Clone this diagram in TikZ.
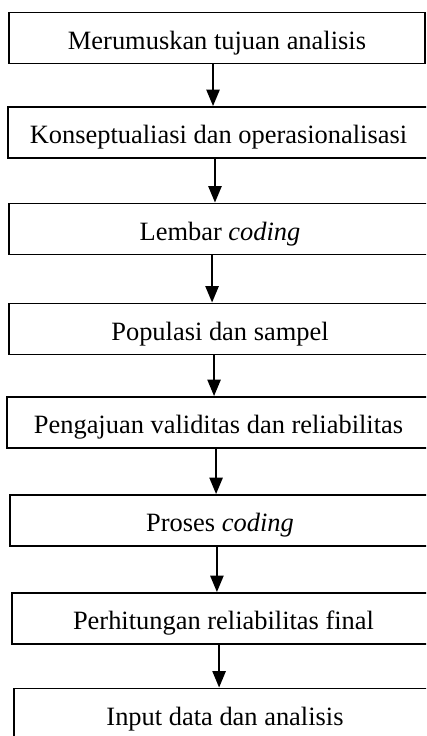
\documentclass[tikz,border=0pt]{standalone}
\usepackage{tikz}
\usepackage{xcolor}
\usepackage{fontspec}
\setmainfont{Liberation Serif}
\usetikzlibrary{arrows.meta}
\usetikzlibrary{shapes}

\tikzset{
schrittbox/.style={draw, line width=0.8pt, minimum height=23.2pt, inner sep=0pt, text height=10pt, text depth=0pt, font=\fontsize{12}{14}\selectfont},
pfeil/.style={line width=0.9pt, -{Triangle[length=7.5pt,width=6pt]}}
}

\begin{document}
\begin{tikzpicture}[x=0.454pt, y=-0.454pt]
\useasboundingbox (0,0) rectangle (426,736);
\clip (0,0) rectangle (426,736); % Alles rechts und unten ausserhalb wird abgeschnitten, die Kaesten laufen dort ueber den Rand.
\node[schrittbox, minimum width=188.9pt] (s1) at (217,38) {Merumuskan tujuan analisis};
\node[schrittbox, minimum width=191.1pt] (s2) at (218.5,132.5) {Konseptualiasi dan operasionalisasi};
\node[schrittbox, minimum width=191.6pt] (s3) at (220,229) {Lembar \textit{coding}};
\node[schrittbox, minimum width=191.6pt] (s4) at (220,329) {Populasi dan sampel};
\node[schrittbox, minimum width=192pt] (s5) at (218.5,422.5) {Pengajuan validitas dan reliabilitas};
\node[schrittbox, minimum width=190.7pt] (s6) at (220,520.5) {Proses \textit{coding}};
\node[schrittbox, minimum width=192pt] (s7) at (223.5,618.5) {Perhitungan reliabilitas final};
\node[schrittbox, minimum width=191.6pt] (s8) at (225,714) {Input data dan analisis};
% Pfeile immer senkrecht nach unten, leicht links von der Mitte
\foreach \a/\b/\d in {s1/s2/-1.8, s2/s3/-1.6, s3/s4/-3.6, s4/s5/-2.7, s5/s6/-1.1, s6/s7/-1.4, s7/s8/-2}
\draw[pfeil] ([xshift=\d pt]\a.south) -- ([xshift=\d pt]\a.south |- \b.north);
\end{tikzpicture}
\end{document}
